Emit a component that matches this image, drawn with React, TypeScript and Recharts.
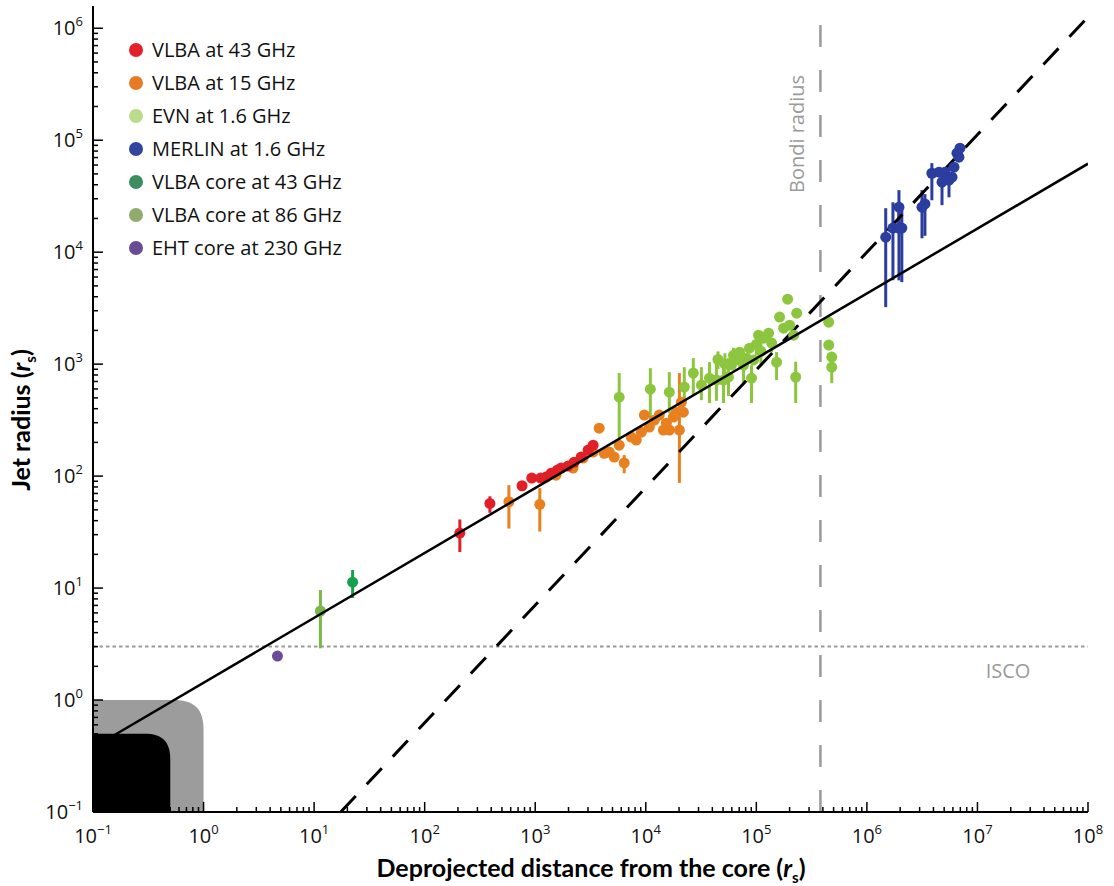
import { ScatterChart, Scatter, XAxis, YAxis, ErrorBar, ReferenceLine, ReferenceArea } from 'recharts'

// [distance, radius, lower, upper] in units of r_s
type Pt = [number, number, number?, number?]

const VLBA_43: Pt[] = [
  [208, 31, 21, 41], [389, 57, 47, 66], [760, 82, 76, 89], [930, 96], [1120, 96], [1250, 98],
  [1390, 106], [1580, 113], [1710, 118], [1980, 123], [2250, 133], [2600, 148], [3010, 171], [3340, 189],
]

const VLBA_15: Pt[] = [
  [578, 59, 34, 83], [1100, 56, 32, 78], [1540, 102], [2200, 118], [2710, 145], [3340, 164], [3790, 268],
  [4210, 160], [4670, 164], [5180, 148], [5750, 189], [6380, 131, 106, 154], [7390, 223], [8200, 210],
  [9120, 247], [9710, 351], [10770, 274], [11940, 316], [13250, 351], [14420, 258], [15350, 297],
  [16330, 258], [17760, 337], [18900, 372], [20140, 258, 87, 832], [21000, 457], [21880, 372],
]

const EVN_16: Pt[] = [
  [5750, 507, 210, 832], [11000, 598, 330, 920], [16330, 562, 366, 849], [22300, 624, 477, 940],
  [26900, 832, 528, 1132], [31850, 650, 477, 940], [37670, 750, 449, 1042], [43550, 720, 470, 1020],
  [45000, 1100, 900, 1300], [50470, 720, 450, 1080], [52000, 1000, 800, 1250], [55980, 766, 520, 1130],
  [59600, 980], [62110, 1200, 1040, 1400], [66100, 1090], [70500, 1280], [76600, 980, 676, 1200],
  [81500, 1130], [86700, 1390], [90500, 750, 450, 980], [94400, 1090], [100000, 1500, 1200, 1800],
  [104700, 1815], [110000, 1300, 1000, 1600], [116400, 1706], [129100, 1892], [137500, 1542, 1280, 1700],
  [152500, 1042, 720, 1280], [162300, 2630], [176600, 2094], [191900, 3800], [200000, 2228],
  [217800, 1815], [227000, 766, 450, 1050], [231800, 2853], [451800, 2371], [451800, 1479],
  [481000, 1156], [481000, 940, 676, 1230],
]

const MERLIN_16: Pt[] = [
  [1.48e6, 13600, 3230, 24700], [1.72e6, 16400, 5620, 27900], [1.95e6, 25200, 15700, 35800],
  [1.95e6, 16400, 5600, 25200], [2.07e6, 16400, 5400, 25000], [3.15e6, 25200, 13300, 35800],
  [3.35e6, 27000, 14000, 33000], [3.87e6, 50700, 29100, 62400], [4.49e6, 51800], [4.78e6, 42200, 26300, 52000],
  [5.09e6, 51800], [5.53e6, 44000, 30900, 52000], [5.89e6, 46800], [6.14e6, 57400], [6.53e6, 76600],
  [6.8e6, 70500], [6.95e6, 84900],
]

const CORE_43: Pt[] = [[22.3, 11.3, 8.15, 14.5]]
const CORE_86: Pt[] = [[11.4, 6.24, 2.9, 9.6]]
const EHT_230: Pt[] = [[4.66, 2.47]]

// parabolic (solid) and conical (dashed) fits
const PARABOLIC: Pt[] = [[0.158, 0.49], [1e8, 61700]]
const CONICAL: Pt[] = [[17.4, 0.1], [1e8, 1.26e6]]

const BONDI_RADIUS = 3.8e5
const ISCO = 3
const HORIZON_OUTER = 1
const HORIZON_INNER = 0.5

const X_DECADES = [-1, 0, 1, 2, 3, 4, 5, 6, 7, 8]
const Y_DECADES = [-1, 0, 1, 2, 3, 4, 5, 6]
const MINOR_STEPS = [1, 2, 3, 4, 5, 6, 7, 8, 9]
const X_DOMAIN = [0.1, 1e8]
const Y_DOMAIN = [0.1, 1.58e6]

const LEGEND = [
  { label: 'VLBA at 43 GHz', color: '#e4212a' },
  { label: 'VLBA at 15 GHz', color: '#e87b25' },
  { label: 'EVN at 1.6 GHz', color: '#bbdc8d' },
  { label: 'MERLIN at 1.6 GHz', color: '#2f45a0' },
  { label: 'VLBA core at 43 GHz', color: '#3b8e5f' },
  { label: 'VLBA core at 86 GHz', color: '#8fab6e' },
  { label: 'EHT core at 230 GHz', color: '#6a4c93' },
]

const SERIES = [
  { name: 'EVN', data: EVN_16, color: '#8cc63e' },
  { name: 'VLBA15', data: VLBA_15, color: '#e8801f' },
  { name: 'VLBA43', data: VLBA_43, color: '#e21f26' },
  { name: 'MERLIN', data: MERLIN_16, color: '#2b3d9f' },
  { name: 'Core43', data: CORE_43, color: '#16a04b' },
  { name: 'Core86', data: CORE_86, color: '#7ab648' },
  { name: 'EHT', data: EHT_230, color: '#6b4c9a' },
]

const FONT = '"Open Sans", sans-serif'
const TITLE_FONT = 'Lato, sans-serif'
const GREY = '#9a9a9a'

const rows = (pts: Pt[]) =>
  pts.map(([x, y, lo, hi]) => ({ x, y, err: [y - (lo ?? y), (hi ?? y) - y] }))

const ticksFor = (decades: number[], max: number) =>
  decades.flatMap((d) => MINOR_STEPS.map((m) => m * 10 ** d)).filter((v) => v <= max * 1.0001)

const X_TICKS = ticksFor(X_DECADES, X_DOMAIN[1])
const Y_TICKS = ticksFor(Y_DECADES, Y_DOMAIN[1])

const isMajor = (v: number) => Math.abs(Math.log10(v) - Math.round(Math.log10(v))) < 1e-6
const expText = (v: number) => {
  const e = Math.round(Math.log10(v))
  return e < 0 ? `\u2212${-e}` : `${e}`
}

function Pow({ x, y, v, anchor }: { x: number; y: number; v: number; anchor: 'middle' | 'end' }) {
  return (
    <text x={x} y={y} textAnchor={anchor} fontFamily={FONT} fontSize={20} fill="#111">
      10<tspan dy={-9} fontSize={13}>{expText(v)}</tspan>
    </text>
  )
}

function tick(side: 'bottom' | 'top' | 'left' | 'right') {
  return (props: any) => {
    const { x, y, payload } = props
    const major = isMajor(payload.value)
    const len = major ? 10 : 5
    if (side === 'bottom' || side === 'top') {
      const dir = side === 'bottom' ? -1 : 1
      return (
        <g>
          <line x1={x} x2={x} y1={y} y2={y + dir * len} stroke="#000" strokeWidth={1.5} />
          {side === 'bottom' && major && <Pow x={x} y={y + 31} v={payload.value} anchor="middle" />}
        </g>
      )
    }
    const dir = side === 'left' ? 1 : -1
    return (
      <g>
        <line x1={x} x2={x + dir * len} y1={y} y2={y} stroke="#000" strokeWidth={1.5} />
        {side === 'left' && major && <Pow x={x - 10} y={y + 7} v={payload.value} anchor="end" />}
      </g>
    )
  }
}

function roundedBlock(fill: string, r: number) {
  return (p: any) => {
    const { x, y, width, height } = p
    const R = Math.min(r, width, height)
    const k = 0.3
    const d = `M${x},${y + height} L${x},${y} L${x + width - R},${y} C${x + width - R * k},${y} ${x + width},${y + R * k} ${x + width},${y + R} L${x + width},${y + height} Z`
    return <path d={d} fill={fill} />
  }
}

const axisLine = { stroke: '#000', strokeWidth: 2 }

export default function App() {
  return (
    <div style={{ position: 'absolute', left: 0, top: 0, width: 1114, height: 886, background: '#fff' }}>
      <ScatterChart width={1114} height={886} margin={{ top: 6, right: 26, bottom: 0, left: 0 }}>
        <XAxis
          dataKey="x" type="number" scale="log" domain={X_DOMAIN} allowDataOverflow
          ticks={X_TICKS} interval={0} tickSize={0} tickMargin={0} height={74}
          axisLine={axisLine} tickLine={false} tick={tick('bottom')}
        />
        <XAxis
          xAxisId="top" orientation="top" dataKey="x" type="number" scale="log" domain={X_DOMAIN} allowDataOverflow
          ticks={X_TICKS} interval={0} tickSize={0} tickMargin={0} height={0}
          axisLine={axisLine} tickLine={false} tick={tick('top')}
        />
        <YAxis
          dataKey="y" type="number" scale="log" domain={Y_DOMAIN} allowDataOverflow
          ticks={Y_TICKS} interval={0} tickSize={0} tickMargin={0} width={93}
          axisLine={axisLine} tickLine={false} tick={tick('left')}
        />
        <YAxis
          yAxisId="right" orientation="right" dataKey="y" type="number" scale="log" domain={Y_DOMAIN} allowDataOverflow
          ticks={Y_TICKS} interval={0} tickSize={0} tickMargin={0} width={0}
          axisLine={axisLine} tickLine={false} tick={tick('right')}
        />

        <ReferenceArea x1={X_DOMAIN[0]} x2={HORIZON_OUTER} y1={Y_DOMAIN[0]} y2={HORIZON_OUTER} shape={roundedBlock('#9c9c9c', 30)} />
        <ReferenceArea x1={X_DOMAIN[0]} x2={HORIZON_INNER} y1={Y_DOMAIN[0]} y2={HORIZON_INNER} shape={roundedBlock('#000', 26)} />

        <ReferenceLine
          y={ISCO} stroke={GREY} strokeWidth={2} strokeDasharray="3.5 3"
          label={(p: any) => (
            <text x={p.viewBox.x + p.viewBox.width - 80} y={p.viewBox.y + 31} textAnchor="middle" fontFamily={FONT} fontSize={20} fill={GREY}>
              ISCO
            </text>
          )}
        />
        <ReferenceLine
          x={BONDI_RADIUS} stroke={GREY} strokeWidth={2.5} strokeDasharray="22 23"
          label={(p: any) => {
            const tx = p.viewBox.x - 16
            const ty = p.viewBox.y + 128
            return (
              <text x={tx} y={ty} transform={`rotate(-90 ${tx} ${ty})`} textAnchor="middle" fontFamily={FONT} fontSize={20} fill={GREY}>
                Bondi radius
              </text>
            )
          }}
        />

        <Scatter
          data={rows(CONICAL)} xAxisId="top" yAxisId="right" isAnimationActive={false}
          line={{ stroke: '#000', strokeWidth: 3, strokeDasharray: '22 16' }} shape={() => <g />}
        />

        {SERIES.map((s) => (
          <Scatter
            key={s.name} data={rows(s.data)} isAnimationActive={false}
            shape={(p: any) => <circle cx={p.cx} cy={p.cy} r={5.5} fill={s.color} />}
          >
            <ErrorBar dataKey="err" direction="y" width={0} stroke={s.color} strokeWidth={3} />
          </Scatter>
        ))}

        <Scatter
          data={rows(PARABOLIC)} xAxisId="top" yAxisId="right" isAnimationActive={false}
          line={{ stroke: '#000', strokeWidth: 2.5 }} shape={() => <g />}
        />
      </ScatterChart>

      <div style={{ position: 'absolute', left: 129, top: 33, fontFamily: FONT, fontSize: 20, color: '#111' }}>
        {LEGEND.map((l) => (
          <div key={l.label} style={{ display: 'flex', alignItems: 'center', height: 33, whiteSpace: 'nowrap' }}>
            <span style={{ width: 14, height: 14, borderRadius: 7, background: l.color, marginRight: 9, flexShrink: 0 }} />
            {l.label}
          </div>
        ))}
      </div>

      <div
        style={{
          position: 'absolute', left: 591, top: 869, transform: 'translate(-50%, -50%)',
          fontFamily: TITLE_FONT, fontWeight: 700, fontSize: 25, whiteSpace: 'nowrap', color: '#000',
        }}
      >
        Deprojected distance from the core (<i>r</i><sub style={{ fontSize: 15 }}>s</sub>)
      </div>
      <div
        style={{
          position: 'absolute', left: 22, top: 420, transform: 'translate(-50%, -50%) rotate(-90deg)',
          fontFamily: TITLE_FONT, fontWeight: 700, fontSize: 25, whiteSpace: 'nowrap', color: '#000',
        }}
      >
        Jet radius (<i>r</i><sub style={{ fontSize: 15 }}>s</sub>)
      </div>
    </div>
  )
}
